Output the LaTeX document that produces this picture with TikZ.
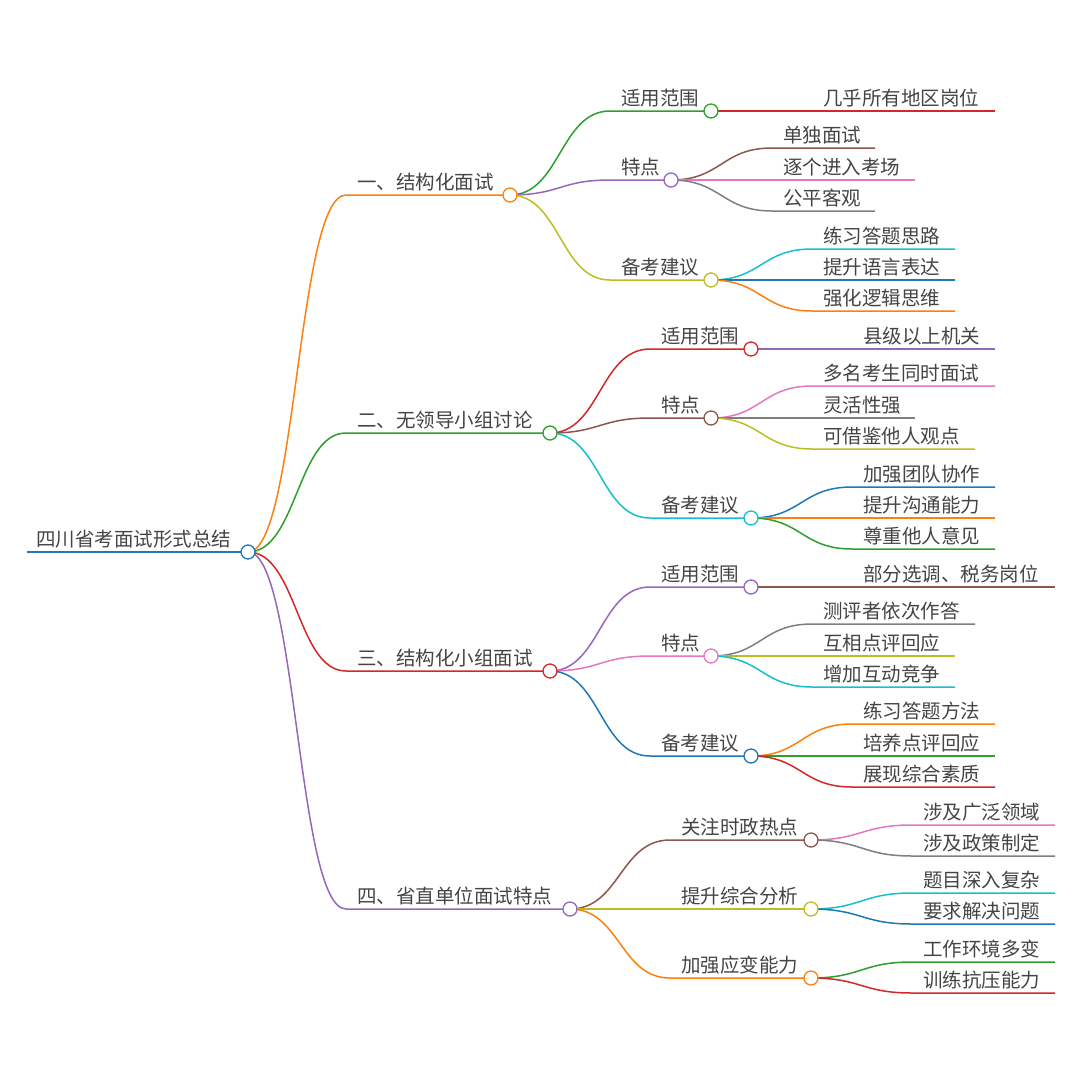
\documentclass[tikz,border=0pt]{standalone}
\usepackage{fontspec}
\setmainfont{Noto Sans CJK SC}
\usetikzlibrary{calc,backgrounds}
\definecolor{cOrange}{HTML}{FF7F0E}
\definecolor{cGreen}{HTML}{2CA02C}
\definecolor{cRed}{HTML}{D62728}
\definecolor{cPurple}{HTML}{9467BD}
\definecolor{cBrown}{HTML}{8C564B}
\definecolor{cPink}{HTML}{E377C2}
\definecolor{cGray}{HTML}{7F7F7F}
\definecolor{cOlive}{HTML}{BCBD22}
\definecolor{cCyan}{HTML}{17BECF}
\definecolor{cBlue}{HTML}{1F77B4}
\definecolor{txt}{HTML}{444444}
\tikzset{
  dot/.style={circle,draw=#1,fill=white,line width=1.3pt,minimum size=14pt,inner sep=0pt},
  link/.style={draw=#1,line width=1.5pt},
  lbl/.style={anchor=south west,inner sep=1pt,text=txt,font=\fontsize{19.5}{21}\selectfont}
}
% parent, name, colour, bend x, y, circle x, text
\newcommand\topic[7]{%
  \coordinate (#2-b) at (#4,#5);
  \node[dot=#3] (#2) at (#6,#5) {};
  \node[lbl] (#2-t) at ($(#2-b)+(10,-3)$) {#7};
  \coordinate (#2-m) at ($(#1)!0.5!(#2-b)$);
  \begin{pgfonlayer}{background}
    \draw[link=#3] (#1.center) .. controls (#2-m |- #1) and (#2-m |- #2-b) .. (#2-b) -- (#2.center);
  \end{pgfonlayer}}
% parent, name, colour, bend x, y, end x, text
\newcommand\leaf[7]{%
  \coordinate (#2-b) at (#4,#5);
  \coordinate (#2-e) at (#6,#5);
  \node[lbl] (#2-t) at ($(#2-b)+(10,-3)$) {#7};
  \coordinate (#2-m) at ($(#1)!0.5!(#2-b)$);
  \begin{pgfonlayer}{background}
    \draw[link=#3] (#1.center) .. controls (#2-m |- #1) and (#2-m |- #2-b) .. (#2-b) -- (#2-e);
  \end{pgfonlayer}}
\begin{document}
\begin{tikzpicture}[x=1pt,y=-1pt]
  \useasboundingbox (0,0) rectangle (1080,1080);
  % root
  \coordinate (start) at (27,552);
  \node[dot=cBlue] (root) at (248,552) {};
  \node[lbl] (root-t) at (35,549) {四川省考面试形式总结};
  \begin{pgfonlayer}{background}
    \draw[link=cBlue] (start) -- (root.center);
  \end{pgfonlayer}
  % main branches
  \topic{root}{a}{cOrange}{346}{195}{510}{一、结构化面试}
  \topic{root}{b}{cGreen}{346}{433}{550}{二、无领导小组讨论}
  \topic{root}{c}{cRed}{346}{671}{550}{三、结构化小组面试}
  \topic{root}{d}{cPurple}{346}{909}{570}{四、省直单位面试特点}
  % branch a
  \topic{a}{a1}{cGreen}{610}{111}{711}{适用范围}
  \topic{a}{a2}{cPurple}{610}{180}{671}{特点}
  \topic{a}{a3}{cOlive}{610}{280}{711}{备考建议}
  \leaf{a1}{a11}{cRed}{812}{111}{995}{几乎所有地区岗位}
  \leaf{a2}{a21}{cBrown}{772}{148}{875}{单独面试}
  \leaf{a2}{a22}{cPink}{772}{180}{915}{逐个进入考场}
  \leaf{a2}{a23}{cGray}{772}{211}{875}{公平客观}
  \leaf{a3}{a31}{cCyan}{812}{249}{955}{练习答题思路}
  \leaf{a3}{a32}{cBlue}{812}{280}{955}{提升语言表达}
  \leaf{a3}{a33}{cOrange}{812}{311}{955}{强化逻辑思维}
  % branch b
  \topic{b}{b1}{cRed}{650}{349}{751}{适用范围}
  \topic{b}{b2}{cBrown}{650}{418}{711}{特点}
  \topic{b}{b3}{cCyan}{650}{518}{751}{备考建议}
  \leaf{b1}{b11}{cPurple}{852}{349}{995}{县级以上机关}
  \leaf{b2}{b21}{cPink}{812}{386}{995}{多名考生同时面试}
  \leaf{b2}{b22}{cGray}{812}{418}{915}{灵活性强}
  \leaf{b2}{b23}{cOlive}{812}{449}{975}{可借鉴他人观点}
  \leaf{b3}{b31}{cBlue}{852}{487}{995}{加强团队协作}
  \leaf{b3}{b32}{cOrange}{852}{518}{995}{提升沟通能力}
  \leaf{b3}{b33}{cGreen}{852}{549}{995}{尊重他人意见}
  % branch c
  \topic{c}{c1}{cPurple}{650}{587}{751}{适用范围}
  \topic{c}{c2}{cPink}{650}{656}{711}{特点}
  \topic{c}{c3}{cBlue}{650}{756}{751}{备考建议}
  \leaf{c1}{c11}{cBrown}{852}{587}{1055}{部分选调、税务岗位}
  \leaf{c2}{c21}{cGray}{812}{624}{975}{测评者依次作答}
  \leaf{c2}{c22}{cOlive}{812}{656}{955}{互相点评回应}
  \leaf{c2}{c23}{cCyan}{812}{687}{955}{增加互动竞争}
  \leaf{c3}{c31}{cOrange}{852}{724}{995}{练习答题方法}
  \leaf{c3}{c32}{cGreen}{852}{756}{995}{培养点评回应}
  \leaf{c3}{c33}{cRed}{852}{787}{995}{展现综合素质}
  % branch d
  \topic{d}{d1}{cBrown}{670}{840}{811}{关注时政热点}
  \topic{d}{d2}{cOlive}{670}{909}{811}{提升综合分析}
  \topic{d}{d3}{cOrange}{670}{978}{811}{加强应变能力}
  \leaf{d1}{d11}{cPink}{912}{825}{1055}{涉及广泛领域}
  \leaf{d1}{d12}{cGray}{912}{856}{1055}{涉及政策制定}
  \leaf{d2}{d21}{cCyan}{912}{893}{1055}{题目深入复杂}
  \leaf{d2}{d22}{cBlue}{912}{924}{1055}{要求解决问题}
  \leaf{d3}{d31}{cGreen}{912}{962}{1055}{工作环境多变}
  \leaf{d3}{d32}{cRed}{912}{993}{1055}{训练抗压能力}
\end{tikzpicture}
\end{document}
